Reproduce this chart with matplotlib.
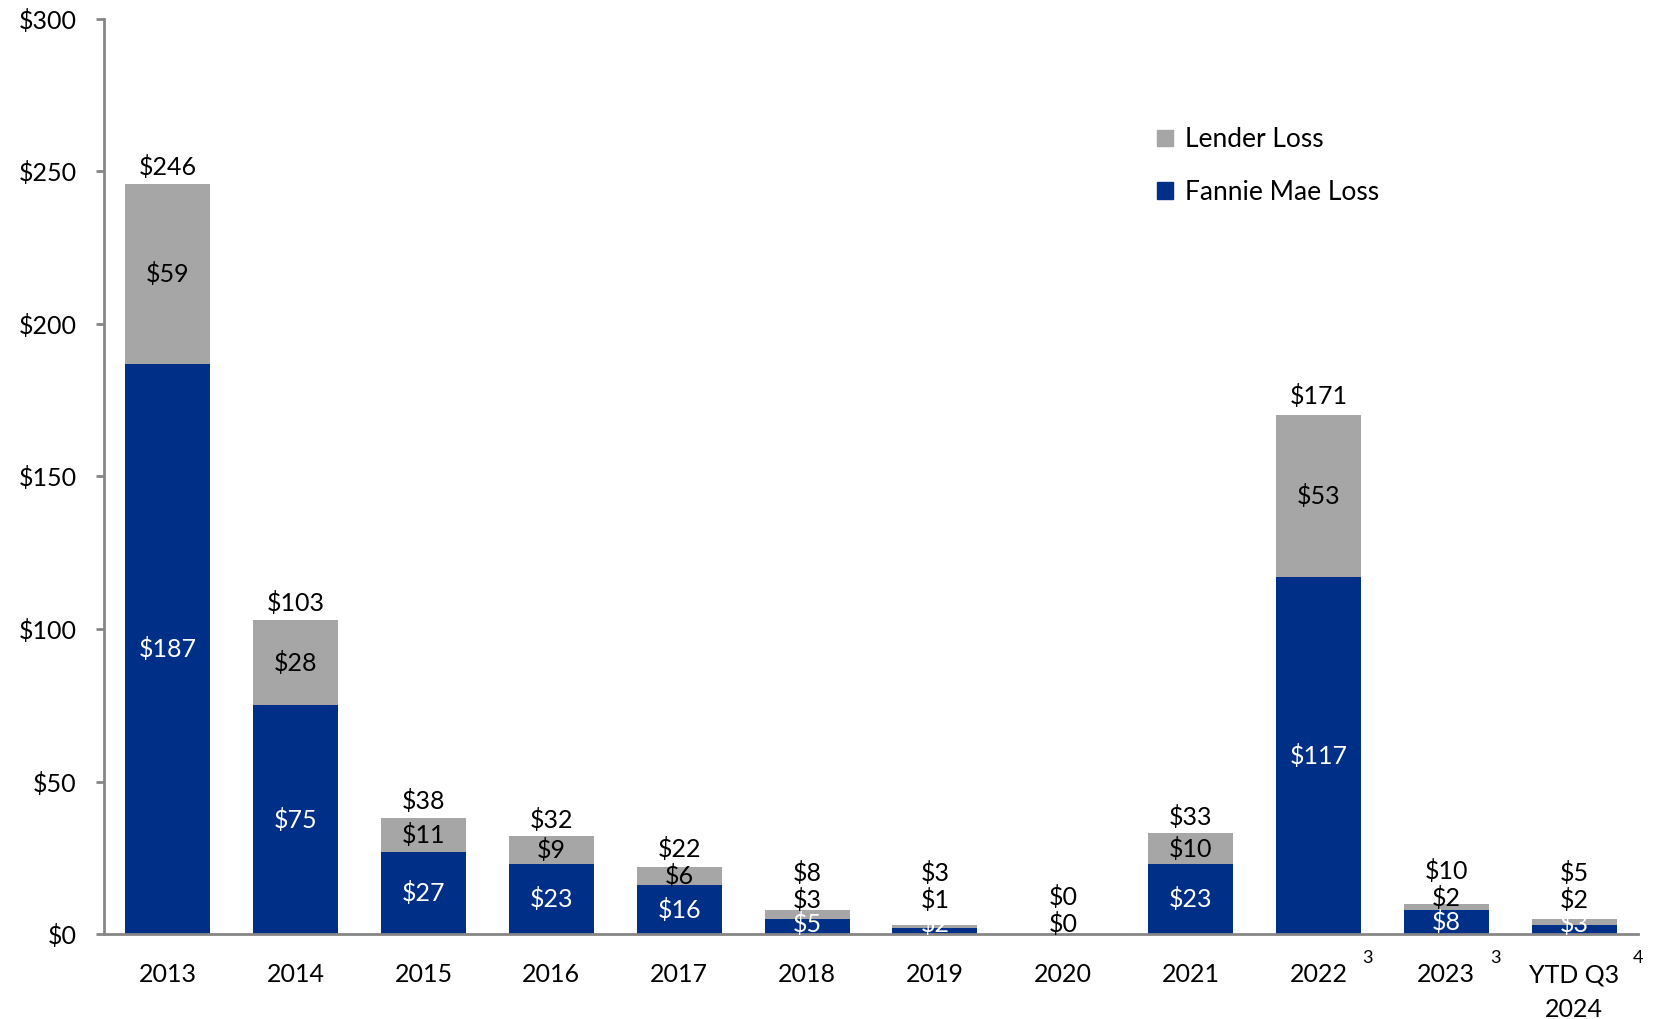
import matplotlib
matplotlib.use("Agg")
import matplotlib.pyplot as plt
from matplotlib.patches import Patch
import numpy as np

plt.rcParams['font.family'] = ['Lato', 'DejaVu Sans']

# Credit losses by year, $ millions
categories = ["2013", "2014", "2015", "2016", "2017", "2018", "2019", "2020",
              "2021", "2022", "2023", "YTD Q3\n2024"]
footnotes = ["", "", "", "", "", "", "", "", "", "3", "3", "4"]
fannie_mae_loss = [187, 75, 27, 23, 16, 5, 2, 0, 23, 117, 8, 3]
lender_loss = [59, 28, 11, 9, 6, 3, 1, 0, 10, 53, 2, 2]
totals = [246, 103, 38, 32, 22, 8, 3, 0, 33, 171, 10, 5]

y_ticks = [0, 50, 100, 150, 200, 250, 300]

NAVY = "#002F87"
GRAY = "#A6A6A6"
AXIS = "#868686"
FS = 18

fig = plt.figure(figsize=(16.58, 10.19), dpi=100)
ax = fig.add_axes([0.0627, 0.0834, 0.988 - 0.0627, 0.9814 - 0.0834])

x = np.arange(len(categories))
width = 0.665
ax.bar(x, fannie_mae_loss, width, color=NAVY, label="Fannie Mae Loss")
ax.bar(x, lender_loss, width, bottom=fannie_mae_loss, color=GRAY, label="Lender Loss")

ax.set_xlim(-0.5, len(categories) - 0.5)
ax.set_ylim(0, 300)
ax.set_yticks(y_ticks)
ax.set_yticklabels([f"${v}" for v in y_ticks])
ax.set_xticks(x)
ax.set_xticklabels(categories, linespacing=1.6)

for side in ("top", "right"):
    ax.spines[side].set_visible(False)
for side in ("left", "bottom"):
    ax.spines[side].set_color(AXIS)
    ax.spines[side].set_linewidth(2)

ax.tick_params(axis="y", length=6, width=2, color=AXIS, pad=13.5, labelsize=FS)
ax.tick_params(axis="x", length=0, pad=21, labelsize=FS)

# Data labels: segment labels centred in each segment, nudged apart where
# the segments are too thin, and the total printed above the stack.
floor = 3.2
seg_gap = 7.8
top_pad = 5.5
tot_gap = 9.0
for i in range(len(categories)):
    f, l, t = fannie_mae_loss[i], lender_loss[i], totals[i]
    prev = None
    if f > 0:
        yf = max(f / 2, floor)
        ax.text(x[i], yf, f"${f}", ha="center", va="center", color="white", fontsize=FS)
        prev = yf
    yl = f + l / 2
    yl = max(yl, prev + seg_gap) if prev is not None else max(yl, floor)
    ax.text(x[i], yl, f"${l}", ha="center", va="center", color="black", fontsize=FS)
    yt = max(t + top_pad, yl + tot_gap)
    ax.text(x[i], yt, f"${t}", ha="center", va="center", color="black", fontsize=FS)

# Footnote markers beside some category labels
for i, note in enumerate(footnotes):
    if note:
        dx = 64 if "\n" in categories[i] else 49
        ax.annotate(note, xy=(x[i], 0), xycoords="data",
                    xytext=(dx * 72 / 100, -24 * 72 / 100), textcoords="offset points",
                    ha="center", va="center", fontsize=13, annotation_clip=False)

handles = [Patch(color=GRAY, label="Lender Loss"),
           Patch(color=NAVY, label="Fannie Mae Loss")]
fig.legend(handles=handles, loc="upper left", bbox_to_anchor=(0.690, 0.888),
           frameon=False, fontsize=19, handlelength=0.6, handleheight=0.6,
           handletextpad=0.45, labelspacing=1.05, borderpad=0)

fig.savefig("out.png", dpi=100)
